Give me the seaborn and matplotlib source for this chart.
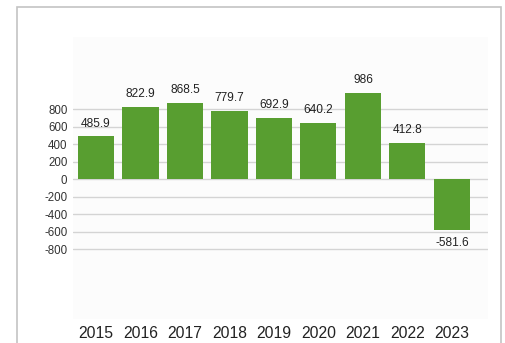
import matplotlib
matplotlib.use("Agg")
import matplotlib.pyplot as plt
import seaborn as sns
import pandas as pd
from matplotlib.patches import Rectangle

years = ["2015", "2016", "2017", "2018", "2019", "2020", "2021", "2022", "2023"]
values = [485.9, 822.9, 868.5, 779.7, 692.9, 640.2, 986, 412.8, -581.6]
value_labels = ["485.9", "822.9", "868.5", "779.7", "692.9", "640.2", "986", "412.8", "-581.6"]
y_ticks = [-800, -600, -400, -200, 0, 200, 400, 600, 800]

sns.set_theme(style="white")
plt.rcParams["font.family"] = ["Liberation Sans", "DejaVu Sans"]

df = pd.DataFrame({"year": years, "value": values})

fig = plt.figure(figsize=(5.05, 3.43), dpi=100)
fig.patch.set_facecolor("white")

# light frame around the chart panel
fig.patches.append(Rectangle((17 / 505, -0.05), (501 - 17) / 505, 1.05 - 7 / 343,
                             transform=fig.transFigure, fill=False,
                             edgecolor="#c4c4c4", linewidth=1.2))

ax = fig.add_axes([73 / 505, 1 - 319 / 343, (488 - 73) / 505, (319 - 37) / 343])
ax.set_facecolor("#fcfcfc")

sns.barplot(data=df, x="year", y="value", color="#589e30", saturation=1,
            width=0.81, ax=ax, zorder=3, linewidth=0, edgecolor="none")

for i, (v, lab) in enumerate(zip(values, value_labels)):
    off = 5 if v >= 0 else -5
    ax.annotate(lab, (i, v), xytext=(0, off), textcoords="offset points",
                ha="center", va="bottom" if v >= 0 else "top",
                fontsize=8.6, color="#222222")

ax.set_xlim(-0.517, 8.81)
ax.set_ylim(-1600, 1623)
ax.set_yticks(y_ticks)
ax.set_yticklabels([str(t) for t in y_ticks])
ax.yaxis.grid(True, color="#d4d4d4", linewidth=1.0, zorder=0)
ax.set_axisbelow(True)
for s in ax.spines.values():
    s.set_visible(False)
ax.tick_params(axis="y", length=0, pad=4, labelsize=8.3, labelcolor="#333333")
ax.tick_params(axis="x", length=0, pad=5, labelsize=11.3, labelcolor="#222222")
ax.set_xlabel("")
ax.set_ylabel("")

fig.savefig("out.png", dpi=100)
